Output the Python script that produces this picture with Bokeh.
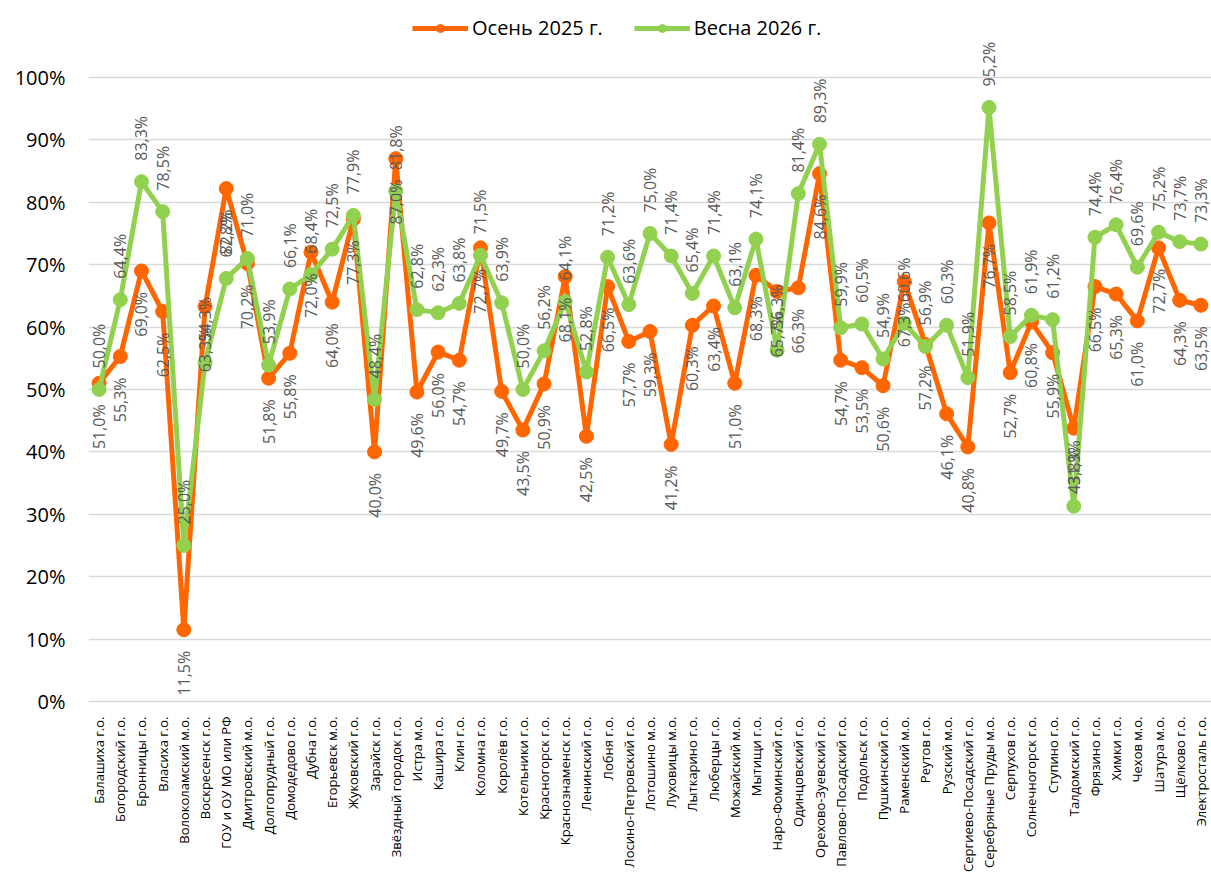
import math
from bokeh.plotting import figure
from bokeh.layouts import column
from bokeh.models import ColumnDataSource, FixedTicker, PrintfTickFormatter, FactorRange, Range1d
from bokeh.core.properties import value
from bokeh.embed import file_html
from bokeh.resources import INLINE

categories = [
    "Балашиха г.о.", "Богородский г.о.", "Бронницы г.о.", "Власиха г.о.", "Волоколамский м.о.",
    "Воскресенск г.о.", "ГОУ и ОУ МО или РФ", "Дмитровский м.о.", "Долгопрудный г.о.", "Домодедово г.о.",
    "Дубна г.о.", "Егорьевск м.о.", "Жуковский г.о.", "Зарайск г.о.", "Звёздный городок г.о.",
    "Истра м.о.", "Кашира г.о.", "Клин г.о.", "Коломна г.о.", "Королёв г.о.",
    "Котельники г.о.", "Красногорск г.о.", "Краснознаменск г.о.", "Ленинский г.о.", "Лобня г.о.",
    "Лосино-Петровский г.о.", "Лотошино м.о.", "Луховицы м.о.", "Лыткарино г.о.", "Люберцы г.о.",
    "Можайский м.о.", "Мытищи г.о.", "Наро-Фоминский г.о.", "Одинцовский г.о.", "Орехово-Зуевский г.о.",
    "Павлово-Посадский г.о.", "Подольск г.о.", "Пушкинский г.о.", "Раменский м.о.", "Реутов г.о.",
    "Рузский м.о.", "Сергиево-Посадский г.о.", "Серебряные Пруды м.о.", "Серпухов г.о.", "Солнечногорск г.о.",
    "Ступино г.о.", "Талдомский г.о.", "Фрязино г.о.", "Химки г.о.", "Чехов м.о.",
    "Шатура м.о.", "Щёлково г.о.", "Электросталь г.о.",
]

autumn_2025 = [
    51.0, 55.3, 69.0, 62.5, 11.5,
    63.3, 82.2, 70.2, 51.8, 55.8,
    72.0, 64.0, 77.3, 40.0, 87.0,
    49.6, 56.0, 54.7, 72.7, 49.7,
    43.5, 50.9, 68.1, 42.5, 66.5,
    57.7, 59.3, 41.2, 60.3, 63.4,
    51.0, 68.3, 65.7, 66.3, 84.6,
    54.7, 53.5, 50.6, 67.3, 57.2,
    46.1, 40.8, 76.7, 52.7, 60.8,
    55.9, 43.8, 66.5, 65.3, 61.0,
    72.7, 64.3, 63.5,
]

spring_2026 = [
    50.0, 64.4, 83.3, 78.5, 25.0,
    54.3, 67.8, 71.0, 53.9, 66.1,
    68.4, 72.5, 77.9, 48.4, 81.8,
    62.8, 62.3, 63.8, 71.5, 63.9,
    50.0, 56.2, 64.1, 52.8, 71.2,
    63.6, 75.0, 71.4, 65.4, 71.4,
    63.1, 74.1, 56.3, 81.4, 89.3,
    59.9, 60.5, 54.9, 60.6, 56.9,
    60.3, 51.9, 95.2, 58.5, 61.9,
    61.2, 31.3, 74.4, 76.4, 69.6,
    75.2, 73.7, 73.3,
]

series_names = ["Осень 2025 г.", "Весна 2026 г."]
series_colors = ["#FF6600", "#92D050"]
y_ticks = [0, 10, 20, 30, 40, 50, 60, 70, 80, 90, 100]


def fmt(v):
    return f"{v:.1f}".replace(".", ",") + "%"


FONT = "Open Sans"

x_range = FactorRange(*categories, range_padding=0)

p = figure(
    width=1211, height=716,
    x_range=x_range,
    y_range=Range1d(-2.4, 111.7),
    x_axis_location=None,
    output_backend="svg", toolbar_location=None,
    min_border_left=88, min_border_right=0, min_border_top=4, min_border_bottom=0,
)
p.outline_line_color = None
p.background_fill_color = "white"

# grid / y axis
p.xgrid.grid_line_color = None
p.ygrid.grid_line_color = "#D9D9D9"
p.ygrid.grid_line_width = 1.5
p.yaxis.ticker = FixedTicker(ticks=y_ticks)
p.yaxis.formatter = PrintfTickFormatter(format="%d%%")
p.yaxis.axis_line_color = None
p.yaxis.major_tick_line_color = None
p.yaxis.minor_tick_line_color = None
p.yaxis.major_tick_out = 0
p.yaxis.major_label_text_font_size = "20px"
p.yaxis.major_label_text_font = FONT
p.yaxis.major_label_text_color = "#000000"
p.yaxis.major_label_standoff = 23

src = ColumnDataSource(dict(
    cat=categories,
    a=autumn_2025,
    s=spring_2026,
    a_lab=[fmt(v) for v in autumn_2025],
    s_lab=[fmt(v) for v in spring_2026],
))

for col, name, color in zip(["a", "s"], series_names, series_colors):
    p.line("cat", col, source=src, line_color=color, line_width=5, legend_label=name)
    p.scatter("cat", col, source=src, size=14, fill_color=color, line_color=color, legend_label=name)

# data labels: autumn below, spring above
p.text("cat", "a", text="a_lab", source=src, angle=math.pi / 2,
       text_align="right", text_baseline="middle", y_offset=21,
       text_font=value(FONT), text_font_size="16px", text_color="#595959")
p.text("cat", "s", text="s_lab", source=src, angle=math.pi / 2,
       text_align="left", text_baseline="middle", y_offset=-21,
       text_font=value(FONT), text_font_size="16px", text_color="#595959")

lg = p.legend[0]
lg.location = (324, 675)
lg.orientation = "horizontal"
lg.border_line_color = None
lg.background_fill_alpha = 0
lg.label_text_font = FONT
lg.label_text_font_size = "20px"
lg.label_text_color = "#000000"
lg.glyph_width = 56
lg.label_standoff = 4
lg.spacing = 31
lg.margin = 0
lg.padding = 0

# category axis labels in a strip below the chart
q = figure(
    width=1211, height=159,
    x_range=x_range,
    y_range=Range1d(0, 1),
    x_axis_location=None, y_axis_location=None,
    output_backend="svg", toolbar_location=None,
    min_border_left=88, min_border_right=0, min_border_top=0, min_border_bottom=0,
)
q.outline_line_color = None
q.grid.grid_line_color = None
q.text("cat", 1, text="cat", source=src, angle=math.pi / 2,
       text_align="right", text_baseline="middle", y_offset=0,
       text_font=value(FONT), text_font_size="13px", text_color="#000000")

layout = column(p, q, spacing=0)
open("out.html", "w").write(file_html(layout, INLINE))
